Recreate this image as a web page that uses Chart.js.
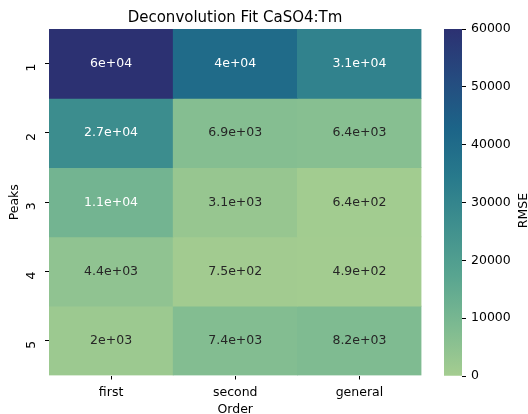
<!DOCTYPE html>
<html>
<head>
<meta charset="utf-8">
<script src="https://cdn.jsdelivr.net/npm/chart.js@4"></script>
<style>
  body { margin: 0; background: #fff; }
  #wrap { position: relative; width: 528px; height: 414px; }
  canvas { position: absolute; top: 0; }
  #heatmap { left: 0; }
  #colorbar { left: 430px; }
</style>
</head>
<body>
<div id="wrap">
  <canvas id="heatmap" width="470" height="414"></canvas>
  <canvas id="colorbar" width="98" height="414"></canvas>
</div>
<script>
const orders = ['first', 'second', 'general'];
const peaks = [1, 2, 3, 4, 5];
// RMSE of each fit order, one entry per number of peaks
const rmseFirst = [60000, 27000, 11000, 4400, 2000];
const rmseSecond = [40000, 6900, 3100, 750, 7400];
const rmseGeneral = [31000, 6400, 640, 490, 8200];
const colorbarTicks = [0, 10000, 20000, 30000, 40000, 50000, 60000];

const rmse = [rmseFirst, rmseSecond, rmseGeneral];
const vmin = 0, vmax = 60000;

// seaborn "crest" colormap, a few sampled stops
const crest = [
  [0.000, [165, 205, 144]],
  [0.143, [125, 186, 145]],
  [0.286, [89, 165, 144]],
  [0.429, [64, 144, 142]],
  [0.571, [40, 122, 140]],
  [0.714, [28, 100, 136]],
  [0.857, [37, 75, 127]],
  [1.000, [44, 49, 114]]
];

function crestRgb(v) {
  const t = Math.min(1, Math.max(0, (v - vmin) / (vmax - vmin)));
  for (let k = 1; k < crest.length; k++) {
    const [t1, c1] = crest[k];
    const [t0, c0] = crest[k - 1];
    if (t <= t1) {
      const f = (t - t0) / (t1 - t0);
      return c0.map((c, i) => Math.round(c + (c1[i] - c) * f));
    }
  }
  return crest[crest.length - 1][1];
}

const rgbStr = c => `rgb(${c[0]}, ${c[1]}, ${c[2]})`;

// same rule seaborn uses to pick light or dark annotation text
function textColor(c) {
  const lin = c.map(x => {
    x /= 255;
    return x <= 0.03928 ? x / 12.92 : Math.pow((x + 0.055) / 1.055, 2.4);
  });
  const lum = 0.2126 * lin[0] + 0.7152 * lin[1] + 0.0722 * lin[2];
  return lum > 0.408 ? '#262626' : '#ffffff';
}

// python style '.2g'
function fmtG2(v) {
  if (v === 0) return '0';
  const r = Number(v.toPrecision(2));
  const exp = Math.floor(Math.log10(Math.abs(r)));
  if (exp < -4 || exp >= 2) {
    const [m, e] = v.toExponential(1).split('e');
    const n = parseInt(e, 10);
    return m.replace(/\.0$/, '') + 'e' + (n < 0 ? '-' : '+') + String(Math.abs(n)).padStart(2, '0');
  }
  return String(r);
}

Chart.defaults.font.family = "'DejaVu Sans', sans-serif";
Chart.defaults.font.size = 12.5;
Chart.defaults.color = '#000';

const cellLabels = {
  id: 'cellLabels',
  afterDatasetsDraw(chart) {
    const ctx = chart.ctx;
    ctx.save();
    ctx.font = "12.5px 'DejaVu Sans', sans-serif";
    ctx.textAlign = 'center';
    ctx.textBaseline = 'middle';
    chart.data.datasets.forEach((ds, i) => {
      chart.getDatasetMeta(i).data.forEach((bar, j) => {
        const v = ds.rmse[j];
        ctx.fillStyle = textColor(crestRgb(v));
        ctx.fillText(fmtG2(v), bar.x, (bar.y + bar.base) / 2);
      });
    });
    ctx.restore();
  }
};

const tickGrid = { drawOnChartArea: false, drawTicks: true, tickLength: 4, color: '#000', lineWidth: 1 };

new Chart(document.getElementById('heatmap'), {
  type: 'bar',
  data: {
    labels: orders,
    datasets: peaks.map((p, i) => ({
      label: 'Peaks ' + p,
      data: orders.map(() => [p - 0.5, p + 0.5]),
      rmse: orders.map((o, j) => rmse[j][i]),
      backgroundColor: orders.map((o, j) => rgbStr(crestRgb(rmse[j][i]))),
      borderWidth: 0,
      grouped: false,
      barPercentage: 1,
      categoryPercentage: 1
    }))
  },
  options: {
    responsive: false,
    animation: false,
    layout: { padding: 0 },
    plugins: {
      legend: { display: false },
      tooltip: { enabled: false },
      title: {
        display: true,
        text: 'Deconvolution Fit CaSO4:Tm',
        color: '#000',
        font: { size: 15, weight: 'normal' },
        padding: { top: 9, bottom: 2 }
      }
    },
    scales: {
      x: {
        offset: true,
        afterFit: s => { s.height = 38.5; },
        grid: { ...tickGrid, offset: false },
        border: { display: false },
        ticks: { padding: 6 },
        title: { display: true, text: 'Order', font: { lineHeight: 1 }, padding: { top: 0, bottom: -2 } }
      },
      y: {
        min: 0.5,
        max: 5.5,
        reverse: true,
        afterBuildTicks: s => { s.ticks = peaks.map(v => ({ value: v })); },
        afterFit: s => { s.width = 49; },
        grid: tickGrid,
        border: { display: false },
        ticks: { padding: 13, minRotation: 90, maxRotation: 90, callback: v => String(v) },
        title: { display: true, text: 'Peaks', padding: { top: 7, bottom: 0 } }
      },
      // empty axis on the right keeps the title centred over the cells
      spacer: {
        type: 'linear',
        position: 'right',
        afterFit: s => { s.width = 48.5; },
        grid: { display: false },
        border: { display: false },
        ticks: { display: false }
      }
    }
  },
  plugins: [cellLabels]
});

// vertical colour scale for the RMSE values
function barGradient(chart) {
  const area = chart.chartArea;
  const y = chart.scales.y;
  if (!area || !y) return rgbStr(crest[0][1]);
  const y0 = y.getPixelForValue(vmin);
  const y1 = y.getPixelForValue(vmax);
  if (!isFinite(y0) || !isFinite(y1)) return rgbStr(crest[0][1]);
  const g = chart.ctx.createLinearGradient(0, y0, 0, y1);
  crest.forEach(([t, c]) => g.addColorStop(t, rgbStr(c)));
  return g;
}

const colorbarTitle = {
  id: 'colorbarTitle',
  afterDraw(chart) {
    const ctx = chart.ctx;
    const area = chart.chartArea;
    ctx.save();
    ctx.translate(94, (area.top + area.bottom) / 2 + 8);
    ctx.rotate(-Math.PI / 2);
    ctx.font = "12.5px 'DejaVu Sans', sans-serif";
    ctx.fillStyle = '#000';
    ctx.textAlign = 'center';
    ctx.textBaseline = 'middle';
    ctx.fillText('RMSE', 0, 0);
    ctx.restore();
  }
};

new Chart(document.getElementById('colorbar'), {
  type: 'bar',
  data: {
    labels: ['RMSE'],
    datasets: [{
      data: [[vmin, vmax]],
      backgroundColor: ctx => barGradient(ctx.chart),
      borderWidth: 0,
      barPercentage: 1,
      categoryPercentage: 1
    }]
  },
  options: {
    responsive: false,
    animation: false,
    layout: { padding: { left: 14, right: 16, top: 29, bottom: 38 } },
    plugins: { legend: { display: false }, tooltip: { enabled: false } },
    scales: {
      x: { display: false },
      y: {
        position: 'right',
        min: vmin,
        max: vmax,
        afterBuildTicks: s => { s.ticks = colorbarTicks.map(v => ({ value: v })); },
        afterFit: s => { s.width = 50; },
        grid: tickGrid,
        border: { display: false },
        ticks: { padding: 5, callback: v => String(v) }
      }
    }
  },
  plugins: [colorbarTitle]
});
</script>
</body>
</html>
